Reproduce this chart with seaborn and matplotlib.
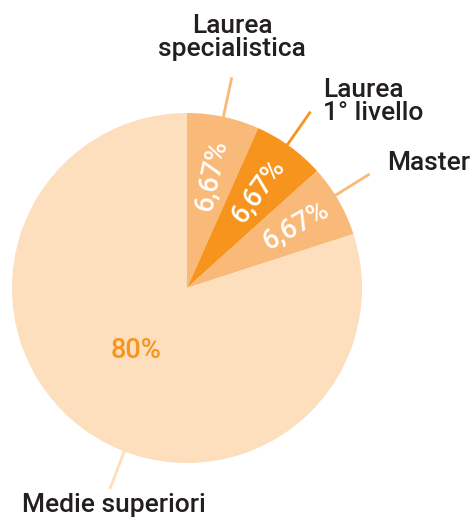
import numpy as np
import matplotlib
matplotlib.use("Agg")
import matplotlib.pyplot as plt
import seaborn as sns

# Data
categories = ["Laurea\nspecialistica", "Laurea\n1° livello", "Master", "Medie superiori"]
values = [6.67, 6.67, 6.67, 80.0]
pct_labels = ["6,67%", "6,67%", "6,67%", "80%"]

sns.set_theme(style="white")
plt.rcParams['font.family'] = ['Roboto', 'DejaVu Sans']

colors = ["#F9B978", "#F7941D", "#F9B978", "#FDDEBD"]
line_colors = ["#F9B978", "#F7941D", "#F9B978", "#FDDEBD"]
txt_dark = "#231F20"

W, H = 474, 520
fig = plt.figure(figsize=(W / 100, H / 100), dpi=100)
cx, cy, R = 187, 288, 175
ax = fig.add_axes([(cx - R) / W, (H - cy - R) / H, 2 * R / W, 2 * R / H])

wedges, _ = ax.pie(values, colors=colors, startangle=90, counterclock=False,
                   wedgeprops=dict(linewidth=0))
ax.set_xlim(-1, 1)
ax.set_ylim(-1, 1)
ax.set_aspect("equal")
ax.axis("off")

mids = [np.deg2rad((w.theta1 + w.theta2) / 2) for w in wedges]

pct_r = [0.66, 0.69, 0.72, 0.46]
for i, (w, m) in enumerate(zip(wedges, mids)):
    if i < 3:
        rot = np.rad2deg(m)
        ax.text(pct_r[i] * np.cos(m), pct_r[i] * np.sin(m), pct_labels[i],
                color="white", fontsize=19.5, ha="center", va="center",
                rotation=rot, rotation_mode="anchor", fontweight="medium")
    else:
        m2 = np.deg2rad(231)
        ax.text(pct_r[i] * np.cos(m2), pct_r[i] * np.sin(m2), pct_labels[i],
                color="#F7941D", fontsize=19.5, ha="center", va="center",
                fontweight="medium")

line_angles = [np.rad2deg(mids[0]), np.rad2deg(mids[1]) + 1, np.rad2deg(mids[2]) + 2, 249]
for ang, lc in zip(line_angles, line_colors):
    a = np.deg2rad(ang)
    r0, r1 = 0.99, 1.23
    ax.plot([r0 * np.cos(a), r1 * np.cos(a)], [r0 * np.sin(a), r1 * np.sin(a)],
            color=lc, lw=2, clip_on=False, solid_capstyle="butt")

label_pos = [(0.257, 1.43, "center"), (0.777, 1.066, "left"),
             (1.143, 0.714, "left"), (-0.943, -1.24, "left")]
for lab, (x, y, ha) in zip(categories, label_pos):
    ax.text(x, y, lab, color=txt_dark, fontsize=19, ha=ha, va="center",
            linespacing=0.95, clip_on=False, fontweight="medium")

fig.savefig("out.png", dpi=100)
